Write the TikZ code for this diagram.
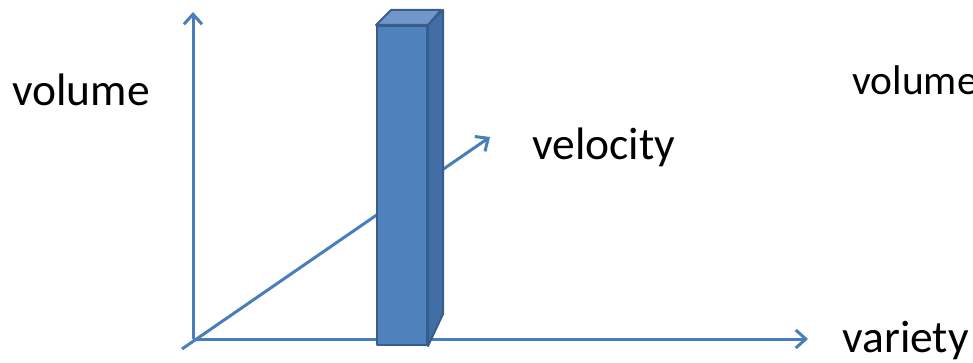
\documentclass[tikz,border=0pt]{standalone}
\usepackage{fontspec}
\setmainfont{Carlito}
\usetikzlibrary{arrows.meta}
\definecolor{axisblue}{HTML}{4A7EBB}
\definecolor{barfront}{HTML}{4F81BD}
\definecolor{barside}{HTML}{406EA5}
\definecolor{bartop}{HTML}{7096CA}
\definecolor{barline}{HTML}{385D8A}
\begin{document}
\begin{tikzpicture}[x=0.5pt, y=-0.5pt]
  \tikzstyle{axis} = [axisblue, line width=1.5pt, -{Straight Barb[length=5pt,width=9pt]}]
  \tikzstyle{word} = [inner sep=0pt, anchor=base west, font=\fontsize{22.75}{27}\selectfont]
  \tikzstyle{face} = [draw=barline, line width=1pt, line join=round]

  \useasboundingbox (0,0) rectangle (973,363);

  % Axes
  \coordinate (origin) at (193,339);
  \coordinate (ytip) at (193,12);
  \coordinate (xtip) at (808,339);
  \coordinate (dstart) at (182,349);
  \coordinate (ztip) at (490,137);
  \draw[axis] (origin) -- (ytip);
  \draw[axis] (origin) -- (xtip);
  \draw[axis] (dstart) -- (ztip);

  % Bar
  \node (bar) [face, fill=barfront, inner sep=0pt, minimum width=25pt, minimum height=159.5pt] at (402,185.5) {};
  \filldraw[face, fill=barside] (bar.north east) -- ++(15,-15) -- ++(0,304) -- (bar.south east) -- cycle;
  \filldraw[face, fill=bartop] (bar.north west) -- ++(15,-15) -- ++(50,0) -- (bar.north east) -- cycle;

  % Labels
  \node (volleft) [word] at (12,106) {volume};
  \node (velo) [word] at (532,160) {velocity};
  \node (volright) [word, font=\fontsize{20.75}{25}\selectfont] at (852,95) {volume};
  \node (vari) [word] at (842,352) {variety};
\end{tikzpicture}
\end{document}
